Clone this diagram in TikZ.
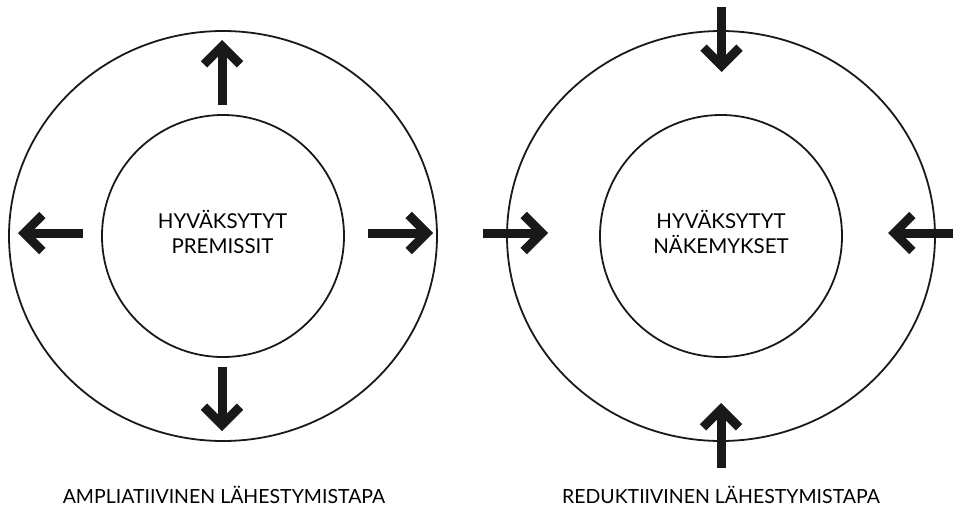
\documentclass[tikz,border=0pt]{standalone}
\usepackage{fontspec}
\setmainfont{Lato}
\usetikzlibrary{arrows.meta}

\begin{document}
\begin{tikzpicture}[
			x=1pt, y=-1pt,
			every node/.style={font=\fontsize{20.5}{25.7}\selectfont, align=center, inner sep=0pt},
			% Stijlen
			ring/.style={draw=black!90, line width=1.8pt},
			pijl/.style={draw=black!90, line width=9pt, -{Straight Barb[sharp, length=18pt, width=36pt]}},
			label/.style={anchor=base, font=\fontsize{19.5}{24}\selectfont}
		]

		% --- Parameters ---
		\def\rxO{214}  % buitenring
		\def\ryO{205}
		\def\rxI{121}  % binnenring
		\def\ryI{121}

		\useasboundingbox (0,0) rectangle (956,509);

		% --- 1. AMPLIATIIVINEN ---
		\coordinate (ampC) at (223,236);
		\draw[ring] (ampC) ellipse [x radius=\rxO, y radius=\ryO];
		\draw[ring] (ampC) ellipse [x radius=\rxI, y radius=\ryI];
		\node (premissit) at (222.5,232) {HYVÄKSYTYT\\PREMISSIT};

		% pijlen naar buiten
		\draw[pijl] (222,105) -- (222,40);
		\draw[pijl] (222,367) -- (222,431);
		\draw[pijl] (83,233) -- (18,233);
		\draw[pijl] (368,233) -- (433,233);

		\node[label] (ampLabel) at (224,503) {AMPLIATIIVINEN LÄHESTYMISTAPA};

		% --- 2. REDUKTIIVINEN ---
		\coordinate (redC) at (721,236);
		\draw[ring] (redC) ellipse [x radius=\rxO, y radius=\ryO];
		\draw[ring] (redC) ellipse [x radius=\rxI, y radius=\ryI];
		\node (nakemykset) at (721,232) {HYVÄKSYTYT\\NÄKEMYKSET};

		% pijlen naar binnen
		\draw[pijl] (721.5,7) -- (721.5,72);
		\draw[pijl] (721,468) -- (721,403);
		\draw[pijl] (483,233) -- (548,233);
		\draw[pijl] (953,233) -- (888,233);

		\node[label] (redLabel) at (721,503) {REDUKTIIVINEN LÄHESTYMISTAPA};

	\end{tikzpicture}
\end{document}
